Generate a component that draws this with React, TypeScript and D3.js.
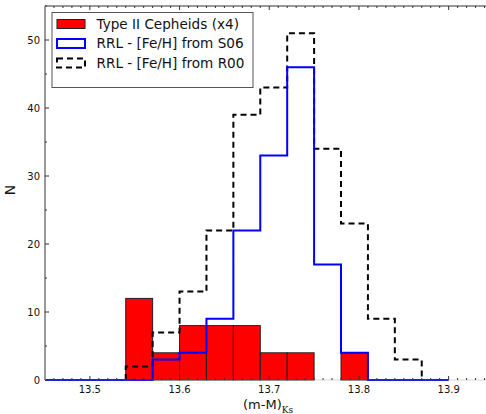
import React from "react";
import * as d3 from "d3";

// bin edges (left) with width 0.03
const binStarts = [13.54, 13.57, 13.60, 13.63, 13.66, 13.69, 13.72, 13.75, 13.78, 13.81, 13.84];
const binWidth = 0.03;
const cepheids = [12, 4, 8, 8, 8, 4, 4, 0, 4, 0, 0];
const rrlS06 = [0, 3, 4, 9, 22, 33, 46, 17, 4, 0, 0];
const rrlR00 = [2, 7, 13, 22, 39, 43, 51, 34, 23, 9, 3];
const xTicks = [13.5, 13.6, 13.7, 13.8, 13.9];
const yTicks = [0, 10, 20, 30, 40, 50];
const legendLabels = ["Type II Cepheids (x4)", "RRL - [Fe/H] from S06", "RRL - [Fe/H] from R00"];

const W = 486, H = 414;
const left = 45, top = 6, bottom = 380;
const x = d3.scaleLinear().domain([13.45, 13.95]).range([left, 45 + 897 * 0.5]);
const y = d3.scaleLinear().domain([0, 55]).range([bottom, top]);

function stepPath(vals: number[], baseStart?: number, baseEnd?: number) {
  const pts: [number, number][] = [];
  const x0 = baseStart ?? binStarts[0];
  pts.push([x(x0), y(0)]);
  binStarts.forEach((b, i) => {
    pts.push([x(b), y(vals[i])]);
    pts.push([x(b + binWidth), y(vals[i])]);
  });
  const last = binStarts[binStarts.length - 1] + binWidth;
  pts.push([x(last), y(0)]);
  if (baseEnd !== undefined) pts.push([x(baseEnd), y(0)]);
  return d3.line()(pts) as string;
}

export default function App() {
  const xMinor = d3.range(13.45, 13.951, 0.01);
  const yMinor = d3.range(0, 56, 5);
  const font = "DejaVu Sans, sans-serif";
  const blueColor = "#0000ff";
  return (
    <svg width={W} height={H} style={{ position: "absolute", left: 0, top: 0 }}>
      <rect x={0} y={0} width={W} height={H} fill="white" />
      <defs>
        <clipPath id="plot">
          <rect x={left} y={top} width={W - left} height={bottom - top + 2} />
        </clipPath>
      </defs>
      <g clipPath="url(#plot)">
        {binStarts.map((b, i) =>
          cepheids[i] > 0 ? (
            <rect key={i} x={x(b)} y={y(cepheids[i])} width={x(b + binWidth) - x(b)}
              height={y(0) - y(cepheids[i])} fill="#ff0000" stroke="#222" strokeWidth={1} />
          ) : null
        )}
        <path d={stepPath(rrlR00)} fill="none" stroke="#000" strokeWidth={2} strokeDasharray="6,4" />
        <path d={stepPath(rrlS06, 13.40, 13.90)} fill="none" stroke={blueColor} strokeWidth={2} />
      </g>
      {/* spines */}
      <line x1={left} y1={top} x2={W} y2={top} stroke="#999" strokeWidth={2} />
      <line x1={left} y1={top} x2={left} y2={bottom} stroke="#999" strokeWidth={2} />
      <line x1={left} y1={bottom} x2={W} y2={bottom} stroke="#999" strokeWidth={1} strokeOpacity={0.4} />
      {/* x minor/major ticks */}
      {xMinor.map((v, i) => {
        const major = xTicks.some((t) => Math.abs(t - v) < 1e-6);
        const len = major ? 4 : 2;
        const xx = x(v);
        if (xx <= left + 1) return null;
        return (
          <g key={i}>
            <line x1={xx} x2={xx} y1={bottom} y2={bottom - len} stroke="#333" strokeWidth={1} />
            <line x1={xx} x2={xx} y1={top} y2={top + len} stroke="#333" strokeWidth={1} />
          </g>
        );
      })}
      {yMinor.map((v, i) => {
        const major = v % 10 === 0;
        const len = major ? 4 : 2;
        return <line key={i} x1={left} x2={left + len} y1={y(v)} y2={y(v)} stroke="#333" strokeWidth={1} />;
      })}
      {xTicks.map((t) => (
        <text key={t} x={x(t)} y={393} textAnchor="middle" fontFamily={font} fontSize={10} fill="#111">
          {t.toFixed(1)}
        </text>
      ))}
      {yTicks.map((t) => (
        <text key={t} x={40} y={y(t) + 3.5} textAnchor="end" fontFamily={font} fontSize={10} fill="#111">
          {t}
        </text>
      ))}
      <text x={15} y={190} transform="rotate(-90 15 190)" textAnchor="middle" fontFamily={font} fontSize={14} fill="#111">
        N
      </text>
      <text x={243} y={409} fontFamily={font} fontSize={13} fill="#111">
        (m-M)
        <tspan fontFamily="DejaVu Serif, serif" fontSize={9} dy={4}>Ks</tspan>
      </text>
      {/* legend */}
      <rect x={52} y={12.5} width={201} height={75} fill="white" stroke="#555" strokeWidth={1} />
      {legendLabels.map((lab, i) => {
        const cy = 24 + i * 19.5;
        return (
          <g key={lab}>
            {i === 0 && <rect x={57} y={cy - 4.5} width={28} height={9} fill="#ff0000" stroke="#222" strokeWidth={1} />}
            {i === 1 && <rect x={57} y={cy - 4.5} width={28} height={9} fill="white" stroke={blueColor} strokeWidth={2} />}
            {i === 2 && <rect x={57} y={cy - 4.5} width={28} height={9} fill="none" stroke="#000" strokeWidth={2} strokeDasharray="6,4" />}
            <text x={96.5} y={cy + 4.8} fontFamily={font} fontSize={13.6} fill="#111">{lab}</text>
          </g>
        );
      })}
    </svg>
  );
}
